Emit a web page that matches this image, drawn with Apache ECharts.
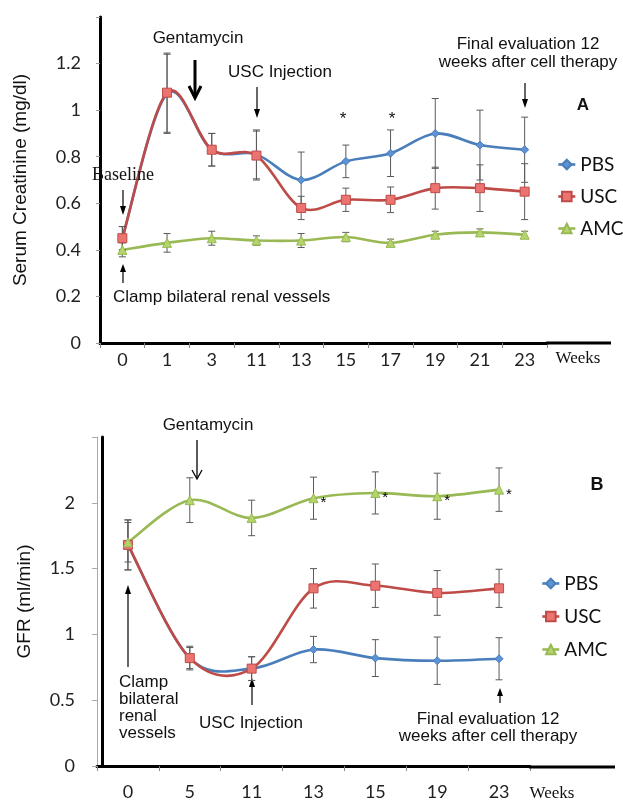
<!DOCTYPE html>
<html><head><meta charset="utf-8">
<script src="https://cdn.jsdelivr.net/npm/echarts/dist/echarts.min.js"></script>
<style>html,body{margin:0;padding:0;background:#fff}#c{width:623px;height:801px}</style>
</head><body><div id="c"></div>
<script>
// ---------- Panel A: Serum creatinine ----------
const weeksA = ['0','1','3','11','13','15','17','19','21','23'];
const pbsA   = [0.45, 1.07, 0.83, 0.81, 0.70, 0.78, 0.815, 0.90, 0.85, 0.83];
const uscA   = [0.45, 1.075, 0.83, 0.805, 0.58, 0.615, 0.615, 0.665, 0.665, 0.65];
const amcA   = [0.40, 0.43, 0.45, 0.44, 0.44, 0.455, 0.43, 0.465, 0.475, 0.465];
const pbsAErr = [0.05, 0.17, 0.07, 0.105, 0.12, 0.07, 0.10, 0.15, 0.15, 0.14];
const uscAErr = [0.05, 0.17, 0.07, 0.105, 0.05, 0.05, 0.055, 0.09, 0.10, 0.12];
const amcAErr = [0.03, 0.04, 0.03, 0.02, 0.03, 0.02, 0.016, 0.015, 0.015, 0.015];
const yTicksA = {min: 0, max: 1.4, interval: 0.2};

// ---------- Panel B: GFR ----------
const weeksB = ['0','5','11','13','15','19','23'];
const pbsB   = [1.68, 0.82, 0.74, 0.885, 0.82, 0.80, 0.815];
const uscB   = [1.68, 0.82, 0.74, 1.35, 1.37, 1.315, 1.35];
const amcB   = [1.70, 2.02, 1.885, 2.035, 2.075, 2.05, 2.10];
const pbsBErr = [0.19, 0.09, 0.09, 0.10, 0.14, 0.18, 0.16];
const uscBErr = [0.19, 0.08, 0.09, 0.15, 0.165, 0.17, 0.145];
const amcBErr = [0.15, 0.17, 0.135, 0.16, 0.16, 0.175, 0.165];
const starWeeksB = ['13','15','19','23'];
const yTicksB = {min: 0, max: 2.5, interval: 0.5};

const seriesNames = ['PBS','USC','AMC'];
const lineColors = ['#4a7ebb','#be4b48','#98b954'];
const fillColors = ['#5d93d4','#ec7470','#b4d46c'];
const symbols = ['diamond','rect','triangle'];
const symbolSizes = [8, 9, 9];

const SANS = 'Liberation Sans, Arial, sans-serif';
const LBL = 'Lato, sans-serif';
const SERIF = 'Liberation Serif, Times New Roman, serif';

// markers (+ legend entries) via line series; the visible curve is drawn by a spline series below
function markerSeries(i, vals, xi, yi, labelFn) {
  return {
    name: seriesNames[i], type: 'line', xAxisIndex: xi, yAxisIndex: yi, z: 10 + i,
    symbol: symbols[i], symbolSize: symbolSizes[i],
    lineStyle: {color: lineColors[i], width: 2.6, opacity: 0},
    itemStyle: {color: fillColors[i], borderColor: lineColors[i], borderWidth: 1},
    data: labelFn ? vals.map((v, k) => labelFn(v, k)) : vals
  };
}
// smooth (Catmull-Rom style) curve through the data points, positioned with api.coord
function splineSeries(i, vals, xi, yi) {
  const n = vals.length;
  const data = [];
  for (let k = 0; k < n - 1; k++) {
    data.push([k, vals[Math.max(k - 1, 0)], vals[k], vals[k + 1], vals[Math.min(k + 2, n - 1)]]);
  }
  return {
    name: 'curve' + i, type: 'custom', xAxisIndex: xi, yAxisIndex: yi, silent: true, z: 5 + i,
    encode: {x: 0, y: [1, 2, 3, 4]},
    data: data,
    renderItem: function (params, api) {
      const k = api.value(0);
      const p0 = api.coord([Math.max(k - 1, 0), api.value(1)]);
      const p1 = api.coord([k, api.value(2)]);
      const p2 = api.coord([k + 1, api.value(3)]);
      const p3 = api.coord([Math.min(k + 2, n - 1), api.value(4)]);
      return {type: 'bezierCurve', shape: {
        x1: p1[0], y1: p1[1], x2: p2[0], y2: p2[1],
        cpx1: p1[0] + (p2[0] - p0[0]) / 6, cpy1: p1[1] + (p2[1] - p0[1]) / 6,
        cpx2: p2[0] - (p3[0] - p1[0]) / 6, cpy2: p2[1] - (p3[1] - p1[1]) / 6
      }, style: {stroke: lineColors[i], lineWidth: 2.6, fill: null}};
    }
  };
}
function errSeries(tag, vals, errs, xi, yi) {
  return {
    name: tag, type: 'custom', xAxisIndex: xi, yAxisIndex: yi, silent: true, z: 9,
    encode: {x: 0, y: [1, 2]},
    data: vals.map((v, k) => [k, v - errs[k], v + errs[k]]),
    renderItem: function (params, api) {
      const x = api.value(0);
      const lo = api.coord([x, api.value(1)]);
      const hi = api.coord([x, api.value(2)]);
      const cw = 3.5, st = {stroke: '#5a5a5a', lineWidth: 1};
      return {type: 'group', children: [
        {type: 'line', shape: {x1: lo[0], y1: lo[1], x2: hi[0], y2: hi[1]}, style: st},
        {type: 'line', shape: {x1: lo[0]-cw, y1: lo[1], x2: lo[0]+cw, y2: lo[1]}, style: st},
        {type: 'line', shape: {x1: hi[0]-cw, y1: hi[1], x2: hi[0]+cw, y2: hi[1]}, style: st}
      ]};
    }
  };
}

// annotation helpers
function txt(x, y, s, opt) {
  return {type: 'text', x: x, y: y, z: 20, style: Object.assign({
    text: s, fontFamily: SANS, fontSize: 17, fill: '#111', align: 'center', verticalAlign: 'middle'
  }, opt || {})};
}
function arrow(x, y1, y2, lw, hw, hl, open) {
  const dir = y2 > y1 ? 1 : -1;
  const base = y2 - dir * hl;
  const kids = [{type: 'line', shape: {x1: x, y1: y1, x2: x, y2: open ? y2 - dir*lw*0.5 : base}, style: {stroke: '#000', lineWidth: lw}}];
  if (open) {
    kids.push({type: 'polyline', shape: {points: [[x-hw, base], [x, y2], [x+hw, base]]}, style: {stroke: '#000', lineWidth: lw, fill: null}});
  } else {
    kids.push({type: 'polygon', shape: {points: [[x-hw, base], [x+hw, base], [x, y2]]}, style: {fill: '#000'}});
  }
  return {type: 'group', z: 20, children: kids};
}

const graphics = [
  // Panel A
  txt(198, 38, 'Gentamycin'),
  arrow(195, 60, 98, 3, 6, 12, true),
  txt(280, 72, 'USC Injection'),
  arrow(257, 87, 118, 1.2, 3, 9, false),
  txt(92, 175, 'Baseline', {fontFamily: SERIF, fontSize: 18, align: 'left'}),
  arrow(123, 190, 215, 1.2, 3, 9, false),
  arrow(123, 283, 264, 1.2, 3, 8, false),
  txt(113, 297, 'Clamp bilateral renal vessels', {align: 'left'}),
  txt(343, 119, '*', {fontSize: 17}),
  txt(392, 119, '*', {fontSize: 17}),
  txt(528, 44, 'Final evaluation 12'),
  txt(528, 62, 'weeks after cell therapy'),
  arrow(525, 83, 108, 1.2, 3, 9, false),
  txt(583, 105, 'A', {fontWeight: 'bold', fontSize: 17}),
  txt(578, 359, 'Weeks', {fontFamily: SERIF, fontSize: 17}),
  {type: 'line', z: 20, shape: {x1: 546, y1: 343, x2: 611, y2: 343}, style: {stroke: '#000', lineWidth: 3}},
  // Panel B
  txt(208, 425, 'Gentamycin'),
  arrow(197, 440, 479, 1.3, 5, 9, true),
  txt(119, 708, 'Clamp\nbilateral\nrenal\nvessels', {align: 'left', lineHeight: 17}),
  arrow(128, 667, 585, 1.2, 3, 9, false),
  txt(251, 723, 'USC Injection'),
  arrow(252, 705, 678, 1.2, 3, 9, false),
  txt(488, 719, 'Final evaluation 12'),
  txt(488, 736, 'weeks after cell therapy'),
  arrow(500, 703, 688, 1.2, 3, 8, false),
  txt(597, 485, 'B', {fontWeight: 'bold', fontSize: 18}),
  txt(552, 794, 'Weeks', {fontFamily: SERIF, fontSize: 17}),
  {type: 'line', z: 20, shape: {x1: 529, y1: 767, x2: 615, y2: 767}, style: {stroke: '#000', lineWidth: 3}}
];

const starLabel = (v, k) => starWeeksB.indexOf(weeksB[k]) >= 0
  ? {value: v, label: {show: true, formatter: '*', position: 'right', offset: [-3, 5], fontSize: 15, color: '#000', fontFamily: SANS}}
  : v;

const xAxisCommon = {
  type: 'category', boundaryGap: true,
  axisLine: {lineStyle: {color: '#000', width: 3}},
  axisTick: {show: true, length: 5, lineStyle: {color: '#888'}},
  axisLabel: {fontFamily: LBL, fontSize: 18, color: '#222'},
  splitLine: {show: false}
};

const legendData = seriesNames.map((n, i) => ({name: n, lineStyle: {color: lineColors[i], width: 2.6, opacity: 1}}));

const option = {
  animation: false,
  backgroundColor: '#fff',
  grid: [
    {left: 100, top: 17, width: 447, height: 326},
    {left: 97, top: 437, width: 433, height: 330}
  ],
  xAxis: [
    Object.assign({}, xAxisCommon, {gridIndex: 0, data: weeksA, axisLabel: Object.assign({}, xAxisCommon.axisLabel, {margin: 8})}),
    Object.assign({}, xAxisCommon, {gridIndex: 1, data: weeksB, axisLabel: Object.assign({}, xAxisCommon.axisLabel, {margin: 17})})
  ],
  yAxis: [
    {gridIndex: 0, type: 'value', position: 'left', min: yTicksA.min, max: yTicksA.max, interval: yTicksA.interval,
     name: 'Serum Creatinine (mg/dl)', nameLocation: 'middle', nameGap: 70,
     nameTextStyle: {fontFamily: SANS, fontSize: 19, color: '#111'},
     axisLine: {show: true, lineStyle: {color: '#000', width: 3}},
     axisTick: {show: true, length: 4, lineStyle: {color: '#999'}},
     axisLabel: {fontFamily: LBL, fontSize: 18, color: '#222', margin: 19,
       formatter: v => (Math.abs(v - yTicksA.max) < 1e-9 ? '' : String(+v.toFixed(1)))},
     splitLine: {show: false}},
    {gridIndex: 1, type: 'value', position: 'left', min: yTicksB.min, max: yTicksB.max, interval: yTicksB.interval, offset: -5,
     name: 'GFR (ml/min)', nameLocation: 'middle', nameGap: 68,
     nameTextStyle: {fontFamily: SANS, fontSize: 19, color: '#111'},
     axisLine: {show: true, lineStyle: {color: '#000', width: 3}},
     axisTick: {show: false},
     axisLabel: {fontFamily: LBL, fontSize: 18, color: '#222', margin: 27,
       formatter: v => (Math.abs(v - yTicksB.max) < 1e-9 ? '' : String(+v.toFixed(1)))},
     splitLine: {show: false}},
    {gridIndex: 1, type: 'value', position: 'left', min: yTicksB.min, max: yTicksB.max, interval: yTicksB.interval, offset: 0,
     axisLine: {show: true, lineStyle: {color: '#aaa', width: 1}},
     axisTick: {show: true, length: 5, lineStyle: {color: '#aaa'}},
     axisLabel: {show: false}, splitLine: {show: false}}
  ],
  legend: [
    {data: legendData, orient: 'vertical', left: 557, top: 155, padding: 0, itemWidth: 17, itemHeight: 12, itemGap: 13,
     textStyle: {fontFamily: LBL, fontSize: 19, color: '#111'}, selectedMode: false},
    {data: legendData, orient: 'vertical', left: 541, top: 574, padding: 0, itemWidth: 17, itemHeight: 12, itemGap: 14,
     textStyle: {fontFamily: LBL, fontSize: 19, color: '#111'}, selectedMode: false}
  ],
  series: [
    splineSeries(0, pbsA, 0, 0), splineSeries(1, uscA, 0, 0), splineSeries(2, amcA, 0, 0),
    markerSeries(0, pbsA, 0, 0), markerSeries(1, uscA, 0, 0), markerSeries(2, amcA, 0, 0),
    errSeries('eA0', pbsA, pbsAErr, 0, 0), errSeries('eA1', uscA, uscAErr, 0, 0), errSeries('eA2', amcA, amcAErr, 0, 0),
    splineSeries(0, pbsB, 1, 1), splineSeries(1, uscB, 1, 1), splineSeries(2, amcB, 1, 1),
    markerSeries(0, pbsB, 1, 1), markerSeries(1, uscB, 1, 1), markerSeries(2, amcB, 1, 1, starLabel),
    errSeries('eB0', pbsB, pbsBErr, 1, 1), errSeries('eB1', uscB, uscBErr, 1, 1), errSeries('eB2', amcB, amcBErr, 1, 1)
  ],
  graphic: graphics
};

const chart = echarts.init(document.getElementById('c'), null, {renderer: 'canvas'});
chart.setOption(option);
</script>
</body></html>
